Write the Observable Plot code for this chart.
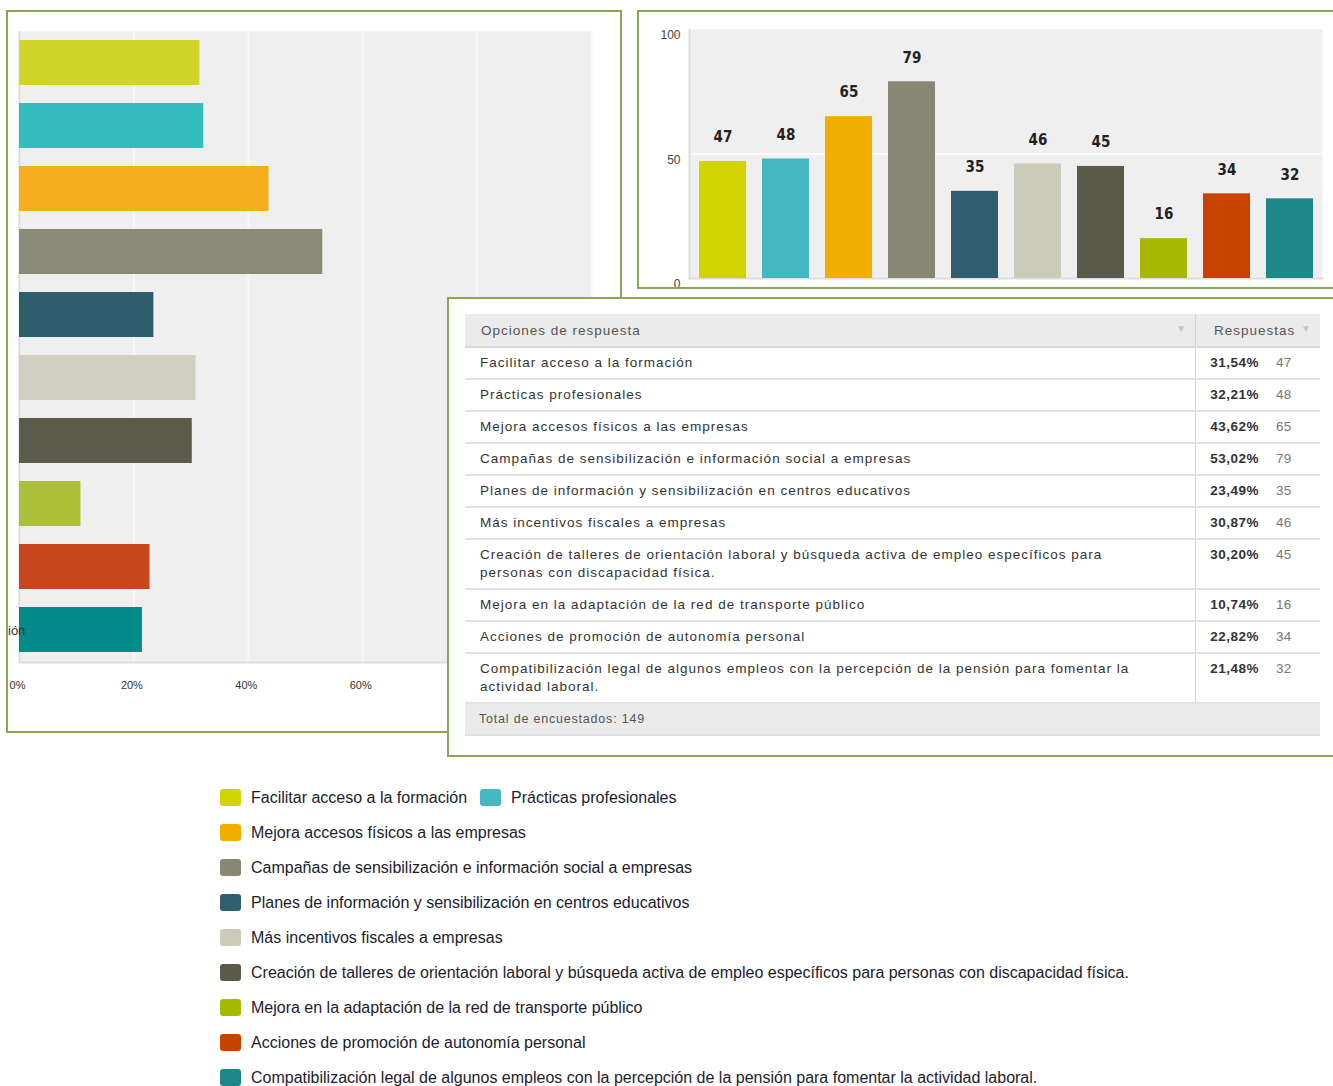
<!DOCTYPE html>
<html>
<head>
<meta charset="utf-8">
<script src="https://cdn.jsdelivr.net/npm/d3@7"></script>
<script src="https://cdn.jsdelivr.net/npm/@observablehq/plot@0.6"></script>
<style>
  html, body { margin: 0; padding: 0; background: #fff; }
  #stage { position: relative; width: 1333px; height: 1086px; overflow: hidden; background: #fff; font-family: "Liberation Sans", Arial, sans-serif; }
  .panel { position: absolute; border: 2px solid #8ba653; background: #fff; overflow: hidden; }
  .panel svg { display: block; }
  #left { left: 6px; top: 10px; width: 612px; height: 719px; }
  #right { left: 637px; top: 10px; width: 700px; height: 275px; }
  #tablePanel { left: 447px; top: 297px; width: 900px; height: 456px; }
  #cut { position: absolute; left: 8px; top: 623px; font-size: 13px; color: #333; font-family: "Liberation Sans", Arial, sans-serif; }
  table.resp { position: absolute; left: 16px; top: 15px; width: 855px; border-collapse: collapse; font-family: "Liberation Sans", Arial, sans-serif; font-size: 13.5px; letter-spacing: 1px; color: #333; }
  table.resp th { background: #ebebeb; height: 32px; padding: 0 0 0 16px; text-align: left; font-weight: normal; color: #555; border-bottom: 2px solid #dadada; }
  table.resp th.c2 { padding-left: 18px; border-left: 1px solid #d4d4d4; }
  table.resp td { border-bottom: 2px solid #e2e2e2; }
  table.resp td.c1 { padding: 6px 40px 6px 15px; line-height: 18px; vertical-align: middle; width: 675px; }
  table.resp td.c2 { padding: 6px 0 0 12px; line-height: 18px; vertical-align: top; border-left: 1px solid #d4d4d4; white-space: nowrap; }
  .pct { display: inline-block; width: 51px; text-align: right; font-weight: bold; color: #333; letter-spacing: 0.5px; }
  .cnt { display: inline-block; margin-left: 17px; color: #777; letter-spacing: 0.3px; }
  .arrow { float: right; color: #c4c4c4; font-size: 10px; margin-right: 8px; }
  table.resp td.foot { background: #ebebeb; height: 30px; padding: 0 0 0 14px; color: #555; font-size: 12.5px; letter-spacing: 0.8px; }
  #legend { position: absolute; left: 220px; top: 780px; font-family: "Liberation Sans", Arial, sans-serif; font-size: 16px; color: #1c1c2c; }
  .lrow { height: 35px; display: flex; align-items: center; }
  .litem { display: flex; align-items: center; margin-right: 13px; }
  .sw { width: 21px; height: 17px; border-radius: 3px; margin-right: 10px; }
</style>
</head>
<body>
<div id="stage">
  <div id="left" class="panel"></div>
  <div id="cut">ión</div>
  <div id="right" class="panel"></div>
  <div id="tablePanel" class="panel"></div>
  <div id="legend"></div>
</div>
<script>
// ---------- data ----------
const categories = [
  "Facilitar acceso a la formación",
  "Prácticas profesionales",
  "Mejora accesos físicos a las empresas",
  "Campañas de sensibilización e información social a empresas",
  "Planes de información y sensibilización en centros educativos",
  "Más incentivos fiscales a empresas",
  "Creación de talleres de orientación laboral y búsqueda activa de empleo específicos para personas con discapacidad física.",
  "Mejora en la adaptación de la red de transporte público",
  "Acciones de promoción de autonomía personal",
  "Compatibilización legal de algunos empleos con la percepción de la pensión para fomentar la actividad laboral."
];
const percents = [31.54, 32.21, 43.62, 53.02, 23.49, 30.87, 30.20, 10.74, 22.82, 21.48];
const counts = [47, 48, 65, 79, 35, 46, 45, 16, 34, 32];
const totalRespondents = 149;
const colorsLeft = ["#cfd529", "#33bdbf", "#f6ae1f", "#8a8a79", "#2e5e6b", "#d0cfc1", "#5b5b4b", "#abbf38", "#c8461b", "#008a88"];
const colorsRight = ["#d1d400", "#45b7c0", "#f2ae00", "#878774", "#2f5e6e", "#cbcbb9", "#5a5a4a", "#a7b800", "#c84300", "#1e8787"];
const xGridLeft = [20, 40, 60, 80, 100];
const xTickLabelsLeft = [0, 20, 40, 60];   // 80% and 100% are hidden behind the table panel
const yTicksRight = [0, 50, 100];
const headerLabels = ["Opciones de respuesta", "Respuestas"];
const footerLabel = "Total de encuestados: ";
const legendRows = [[0, 1], [2], [3], [4], [5], [6], [7], [8], [9]];

const data = categories.map((c, i) => ({cat: c, pct: percents[i], n: counts[i]}));

// ---------- left: horizontal percentage bars ----------
const left = Plot.plot({
  width: 612, height: 719,
  marginLeft: 11, marginRight: 29, marginTop: 19, marginBottom: 69,
  style: {background: "#fff", fontFamily: "Liberation Sans, Arial, sans-serif", fontSize: "11px", color: "#333"},
  x: {domain: [0, 100], axis: null},
  y: {domain: categories, paddingInner: 0.28, paddingOuter: 0.14, axis: null},
  color: {domain: categories, range: colorsLeft},
  marks: [
    Plot.frame({fill: "#efefef", stroke: null}),
    Plot.gridX(xGridLeft, {stroke: "#f7f7f7", strokeOpacity: 1, strokeWidth: 2}),
    Plot.ruleX([0], {stroke: "#dedede", strokeWidth: 2}),
    Plot.frame({anchor: "bottom", stroke: "#dedede", strokeWidth: 2}),
    Plot.barX(data, {x: "pct", y: "cat", fill: "cat"}),
    Plot.axisX({ticks: xTickLabelsLeft, tickFormat: d => d + "%", tickSize: 0, tickPadding: 19, dx: -2, label: null, fill: "#333"})
  ]
});
document.getElementById("left").appendChild(left);

// ---------- right: vertical count bars ----------
const right = Plot.plot({
  width: 700, height: 275,
  marginLeft: 50, marginRight: 17, marginTop: 17, marginBottom: 9,
  style: {background: "#fff", fontFamily: "Liberation Sans, Arial, sans-serif", fontSize: "12px", color: "#444"},
  x: {domain: categories, paddingInner: 0.257, paddingOuter: 0.1285, axis: null},
  y: {domain: [0, 100], axis: null},
  color: {domain: categories, range: colorsRight},
  marks: [
    Plot.frame({fill: "#efefef", stroke: null}),
    Plot.gridY([50], {stroke: "#fafafa", strokeOpacity: 1, strokeWidth: 2}),
    Plot.frame({anchor: "left", stroke: "#dedede", strokeWidth: 2}),
    Plot.frame({anchor: "bottom", stroke: "#dedede", strokeWidth: 2}),
    Plot.barY(data, {x: "cat", y: "n", fill: "cat"}),
    Plot.text(data, {x: "cat", y: "n", text: d => String(d.n), dy: -24, fontWeight: "bold", fontSize: 15,
      fontFamily: "DejaVu Sans Condensed, DejaVu Sans, sans-serif", fill: "#222"}),
    Plot.axisY({ticks: yTicksRight, tickSize: 0, tickPadding: 9, dy: 6, label: null, fill: "#444"})
  ]
});
document.getElementById("right").appendChild(right);

// ---------- table ----------
const fmtPct = v => v.toFixed(2).replace(".", ",") + "%";
let html = '<table class="resp"><thead><tr>' +
  '<th class="c1">' + headerLabels[0] + '<span class="arrow">&#9660;</span></th>' +
  '<th class="c2">' + headerLabels[1] + '<span class="arrow">&#9660;</span></th>' +
  '</tr></thead><tbody>';
data.forEach(d => {
  html += '<tr><td class="c1">' + d.cat + '</td><td class="c2"><span class="pct">' + fmtPct(d.pct) +
    '</span><span class="cnt">' + d.n + '</span></td></tr>';
});
html += '<tr><td class="foot" colspan="2">' + footerLabel + totalRespondents + '</td></tr></tbody></table>';
document.getElementById("tablePanel").innerHTML = html;

// ---------- legend ----------
const legend = document.getElementById("legend");
legendRows.forEach(row => {
  const r = document.createElement("div");
  r.className = "lrow";
  row.forEach(i => {
    const it = document.createElement("div");
    it.className = "litem";
    it.innerHTML = '<div class="sw" style="background:' + colorsRight[i] + '"></div><span>' + categories[i] + '</span>';
    r.appendChild(it);
  });
  legend.appendChild(r);
});
</script>
</body>
</html>
